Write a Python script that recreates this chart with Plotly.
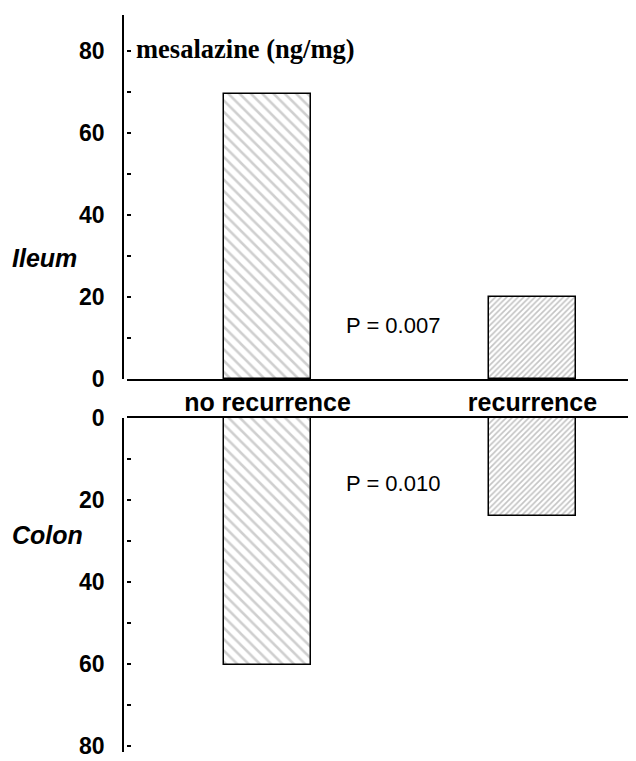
import plotly.graph_objects as go

# Data
groups = ["no recurrence", "recurrence"]
group_pos = [0, 1]
ileum_values = [69.5, 20]
colon_values = [60.2, 24]
y_tick_labels = [0, 20, 40, 60, 80]
p_ileum = "P = 0.007"
p_colon = "P = 0.010"

# page has an 8px body margin; the figure is sized so it ends at the window edge
OFF = 8
W, H = 636 - OFF, 761 - OFF

def px(x):
    return (x - OFF) / W

def py(y):
    return 1 - (y - OFF) / H

x_range = [-0.5302, 1.3906]
top_range = [0, 88.8]
bot_range = [81.5, 0]

pattern_shapes = ["\\", "/"]
pattern_sizes = [8, 4]
pattern_solidity = [0.32, 0.4]
pattern_fg = ["#a0a0a0", "#888888"]

fig = go.Figure()

bar_marker = dict(color="white", line=dict(color="black", width=1.5),
                  pattern=dict(shape=pattern_shapes, size=pattern_sizes,
                               solidity=pattern_solidity, fgcolor=pattern_fg,
                               bgcolor="white"))

fig.add_trace(go.Bar(x=group_pos, y=ileum_values, width=0.325,
                     xaxis="x", yaxis="y", marker=bar_marker,
                     showlegend=False, hoverinfo="skip"))
fig.add_trace(go.Bar(x=group_pos, y=colon_values, width=0.325,
                     xaxis="x2", yaxis="y2", marker=bar_marker,
                     showlegend=False, hoverinfo="skip"))
# empty traces so that the labelled axis lines are drawn
fig.add_trace(go.Scatter(x=[None], y=[None], xaxis="x", yaxis="y3",
                         showlegend=False, hoverinfo="skip", mode="markers"))
fig.add_trace(go.Scatter(x=[None], y=[None], xaxis="x2", yaxis="y4",
                         showlegend=False, hoverinfo="skip", mode="markers"))

tick_font = dict(family="Liberation Sans, Arial", size=23, color="black", weight="bold")
cat_font = dict(family="Liberation Sans, Arial", size=25, color="black", weight="bold")

common_y_ticks = dict(ticks="inside", ticklen=4, tickwidth=1.5, tickcolor="black",
                      dtick=10, tick0=0, showticklabels=False, showline=False,
                      showgrid=False, zeroline=False, automargin=False)
label_axis = dict(showline=True, linecolor="black", linewidth=1.5, ticks="",
                  tickmode="array", tickvals=y_tick_labels,
                  ticktext=[str(v) for v in y_tick_labels],
                  tickfont=tick_font, showgrid=False, zeroline=False,
                  anchor="free", position=px(123), ticklabelstandoff=13,
                  automargin=False)

fig.update_layout(
    width=W, height=H,
    margin=dict(l=0, r=0, t=0, b=0, autoexpand=False),
    paper_bgcolor="white", plot_bgcolor="rgba(0,0,0,0)",
    bargap=0,
    xaxis=dict(domain=[px(127), 1.0], range=x_range, anchor="y",
               showline=True, linecolor="black", linewidth=1.5,
               tickmode="array", tickvals=group_pos, ticktext=groups,
               ticks="", tickfont=cat_font, showgrid=False, zeroline=False,
               automargin=False),
    xaxis2=dict(domain=[px(127), 1.0], range=x_range, anchor="y2", side="top",
                showline=True, linecolor="black", linewidth=1.5,
                showticklabels=False, ticks="", showgrid=False, zeroline=False,
                automargin=False),
    yaxis=dict(domain=[py(379), py(15)], range=top_range, anchor="x", **common_y_ticks),
    yaxis2=dict(domain=[py(752), py(418)], range=bot_range, anchor="x2", **common_y_ticks),
    yaxis3=dict(overlaying="y", range=top_range, **label_axis),
    yaxis4=dict(overlaying="y2", range=bot_range, **label_axis),
)

ann_font_serif = dict(family="Liberation Serif, Times New Roman", size=26.5, color="black", weight="bold")
ann_font_side = dict(family="Liberation Sans, Arial", size=25, color="black", weight="bold", style="italic")
ann_font_p = dict(family="Liberation Sans, Arial", size=22, color="black")

fig.add_annotation(text="mesalazine (ng/mg)", xref="paper", yref="paper",
                   x=px(134), y=py(49), xanchor="left", yanchor="middle",
                   showarrow=False, font=ann_font_serif)
fig.add_annotation(text="Ileum", xref="paper", yref="paper",
                   x=px(10), y=py(258), xanchor="left", yanchor="middle",
                   showarrow=False, font=ann_font_side)
fig.add_annotation(text="Colon", xref="paper", yref="paper",
                   x=px(10), y=py(535), xanchor="left", yanchor="middle",
                   showarrow=False, font=ann_font_side)
fig.add_annotation(text=p_ileum, xref="paper", yref="paper",
                   x=px(344), y=py(325), xanchor="left", yanchor="middle",
                   showarrow=False, font=ann_font_p)
fig.add_annotation(text=p_colon, xref="paper", yref="paper",
                   x=px(344), y=py(483), xanchor="left", yanchor="middle",
                   showarrow=False, font=ann_font_p)

fig.write_html("out.html")
